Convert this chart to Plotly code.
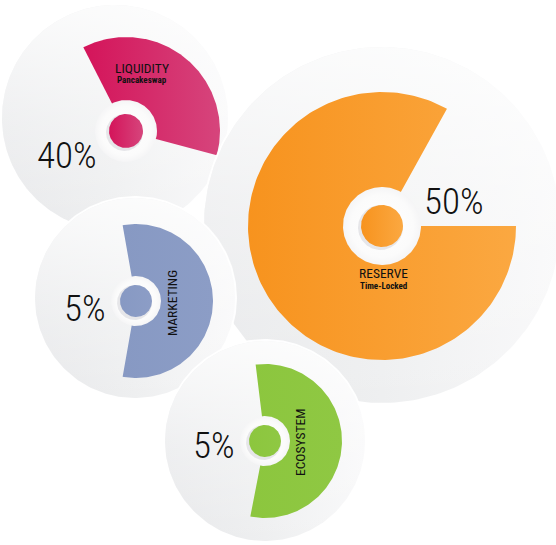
import numpy as np
import plotly.graph_objects as go

# ---- data ----
categories = ["LIQUIDITY", "RESERVE", "MARKETING", "ECOSYSTEM"]
subtitles = ["Pancakeswap", "Time-Locked", "", ""]
shares = [40, 50, 5, 5]

# ---- layout / style (positions in pixel-like data units) ----
W, H = 556, 545
disc_center = [(115, 118), (382, 225), (135, 298), (265, 441)]
disc_radius = [113, 178, 100, 100]
sector_center = [(126, 131), (382, 226), (136, 301), (265, 441)]
sector_radius = [94, 134, 77, 77]
sector_angles = [(-15, 117), (61, 360), (-100, 100), (-101, 97)]
ring_radius = [31, 39, 25, 25]
dot_radius = [17, 21, 16, 16]
colors_dark = ["#d4145a", "#f7931e", "#8799c3", "#8cc63e"]
colors_light = ["#d6457c", "#fba841", "#8c9dc6", "#8fc843"]
pct_pos = [(67, 155), (454, 201), (85, 308), (214, 445)]
name_pos = [(142, 68), (383, 273), (172, 303), (300, 443)]
sub_pos = [(142, 80), (383, 286), None, None]
name_angle = [0, 0, -90, -90]
FONT = "Roboto Condensed, DejaVu Sans Condensed, Roboto, sans-serif"

fig = go.Figure()


def circle_pts(c, r, n=240):
    t = np.linspace(0, 2 * np.pi, n)
    return c[0] + r * np.cos(t), c[1] - r * np.sin(t)


def add_poly(x, y, color=None, grad=None):
    kw = dict(x=x, y=y, mode="lines", fill="toself", hoverinfo="skip",
              showlegend=False, line=dict(width=0, color="rgba(0,0,0,0)"))
    if grad:
        kw["fillgradient"] = grad
    else:
        kw["fillcolor"] = color
    fig.add_trace(go.Scatter(**kw))


for i in range(len(categories)):
    cx, cy = disc_center[i]
    R = disc_radius[i]
    # soft outer glow
    x, y = circle_pts((cx, cy), R + 2)
    add_poly(x, y, color="rgba(255,255,255,0.95)")
    # base disc: gray on the left, light on the right
    x, y = circle_pts((cx, cy), R)
    add_poly(x, y, grad=dict(type="horizontal",
                             colorscale=[[0, "#e7e8ea"], [0.5, "#eeeff0"], [1, "#f8f8f9"]]))
    # white wash, stronger toward the top
    add_poly(x, y, grad=dict(type="vertical",
                             colorscale=[[0, "rgba(255,255,255,0.0)"],
                                         [0.5, "rgba(255,255,255,0.35)"],
                                         [1, "rgba(255,255,255,0.8)"]]))
    # sector
    sx, sy = sector_center[i]
    a0, a1 = sector_angles[i]
    t = np.radians(np.linspace(a0, a1, 200))
    px = np.concatenate([[sx], sx + sector_radius[i] * np.cos(t), [sx]])
    py = np.concatenate([[sy], sy - sector_radius[i] * np.sin(t), [sy]])
    add_poly(px, py, grad=dict(type="horizontal",
                               colorscale=[[0, colors_dark[i]], [1, colors_light[i]]]))
    # white ring
    x, y = circle_pts((sx, sy), ring_radius[i])
    add_poly(x, y, grad=dict(type="radial",
                             colorscale=[[0, "#ffffff"], [0.8, "#fbfbfb"], [1, "#f5f5f6"]]))
    # dot shadow
    x, y = circle_pts((sx - 1.5, sy + 1.5), dot_radius[i] + 1.5)
    add_poly(x, y, color="rgba(205,205,210,0.45)")
    # dot
    x, y = circle_pts((sx, sy), dot_radius[i])
    add_poly(x, y, grad=dict(type="horizontal",
                             colorscale=[[0, colors_dark[i]], [1, colors_light[i]]]))

annotations = []
for i in range(len(categories)):
    annotations.append(dict(x=pct_pos[i][0], y=pct_pos[i][1], text=f"{shares[i]}%",
                            showarrow=False, xanchor="center", yanchor="middle",
                            font=dict(family=FONT, size=37, color="#111111", weight=300)))
    annotations.append(dict(x=name_pos[i][0], y=name_pos[i][1], text=categories[i],
                            showarrow=False, xanchor="center", yanchor="middle",
                            textangle=name_angle[i],
                            font=dict(family=FONT, size=13.5, color="#111111")))
    if subtitles[i]:
        annotations.append(dict(x=sub_pos[i][0], y=sub_pos[i][1], text=subtitles[i],
                                showarrow=False, xanchor="center", yanchor="middle",
                                font=dict(family=FONT, size=9, color="#111111",
                                          weight="bold")))

fig.update_layout(
    width=W, height=H, margin=dict(l=0, r=0, t=0, b=0),
    paper_bgcolor="white", plot_bgcolor="white",
    xaxis=dict(range=[0, W], visible=False, fixedrange=True),
    yaxis=dict(range=[H, 0], visible=False, fixedrange=True),
    annotations=annotations,
)

fig.write_html("out.html", config={"displayModeBar": False})
